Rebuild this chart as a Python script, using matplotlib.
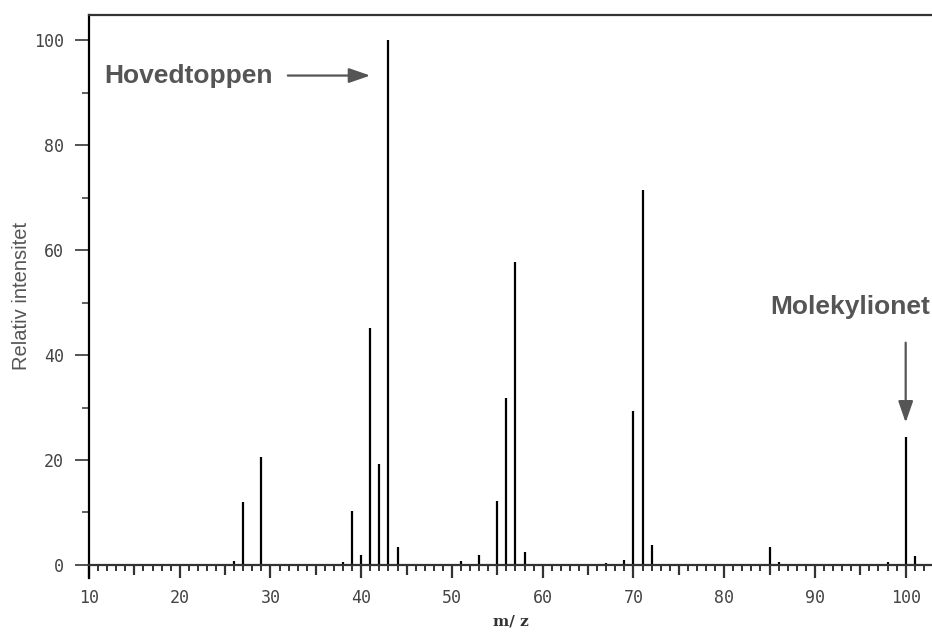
import matplotlib
matplotlib.use('Agg')
import matplotlib.pyplot as plt
from matplotlib.ticker import MultipleLocator

# m/z og relativ intensitet, lest av spekteret
mz = [26, 27, 29, 38, 39, 40, 41, 42, 43, 44, 51, 53, 55, 56, 57, 58,
      67, 69, 70, 71, 72, 85, 86, 98, 100, 101]
intensity = [0.7, 12.0, 20.6, 0.6, 10.3, 1.9, 45.1, 19.2, 100.0, 3.4, 0.8,
             1.9, 12.1, 31.8, 57.7, 2.5, 0.4, 1.0, 29.4, 71.4, 3.8, 3.4,
             0.5, 0.5, 24.4, 1.6]

y_ticks = [0, 20, 40, 60, 80, 100]
x_ticks = [10, 15, 20, 25, 30, 35, 40, 45, 50, 55, 60, 65, 70, 75, 80,
           85, 90, 95, 100]

fig = plt.figure(figsize=(9.32, 6.35), dpi=100)
ax = fig.add_axes([0.0955, 0.0898, 0.9045, 0.8862])

ax.vlines(mz, 0, intensity, color='black', linewidth=1.6)

ax.set_xlim(10, 102.9)
ax.set_ylim(-2.5, 104.8)

ax.spines['right'].set_visible(False)
ax.spines['top'].set_color('#333333')
ax.spines['top'].set_linewidth(1.6)
ax.spines['left'].set_linewidth(1.6)
ax.spines['bottom'].set_position(('data', 0))
ax.spines['bottom'].set_linewidth(1.6)
ax.spines['bottom'].set_color('#333333')

ax.set_xticks(x_ticks)
ax.xaxis.set_minor_locator(MultipleLocator(1))
ax.set_yticks(y_ticks)
ax.yaxis.set_minor_locator(MultipleLocator(10))

tick_font = {'family': 'DejaVu Sans Mono', 'size': 12}
ax.set_xticklabels([str(v) if v % 10 == 0 else '' for v in x_ticks],
                   fontdict=tick_font, color='#444444')
ax.set_yticklabels([str(v) for v in y_ticks], fontdict=tick_font, color='#444444')
ax.tick_params(axis='x', which='major', length=9.5, width=1.6, pad=8,
               color='#333333')
ax.tick_params(axis='x', which='minor', length=4.5, width=1.4, color='#333333')
ax.tick_params(axis='y', which='major', length=10, width=1.3, pad=8,
               color='#444444')
ax.tick_params(axis='y', which='minor', length=5, width=1.2, color='#444444')
ax.tick_params(top=False, right=False)

# hakene ved 5, 15, ... er kortere enn ved tiere
for v, tick in zip(x_ticks, ax.xaxis.get_major_ticks()):
    if v % 10:
        tick.tick1line.set_markersize(7)

ax.set_xlabel('m/ z', family='DejaVu Serif', fontsize=11, weight='bold',
              color='#333333', labelpad=5)
fig.text(22 / 932, 1 - 296 / 635, 'Relativ intensitet', family='Liberation Sans',
         fontsize=14.5, color='#555555', rotation=90, ha='center', va='center')

# merknader med piler
ax.text(11.7, 93.3, 'Hovedtoppen', family='Liberation Sans', weight='bold',
        fontsize=19, color='#555555', va='center', ha='left')
ax.annotate('', xy=(41.3, 93.3), xytext=(31.6, 93.3),
            arrowprops=dict(arrowstyle='-|>,head_length=1.3,head_width=0.45',
                            color='#555555', lw=1.6))
ax.text(102.7, 49.1, 'Molekylionet', family='Liberation Sans', weight='bold',
        fontsize=19, color='#555555', va='center', ha='right')
ax.annotate('', xy=(100, 26.6), xytext=(100, 42.9),
            arrowprops=dict(arrowstyle='-|>,head_length=1.3,head_width=0.45',
                            color='#555555', lw=1.6))

fig.savefig('out.png', dpi=100)
